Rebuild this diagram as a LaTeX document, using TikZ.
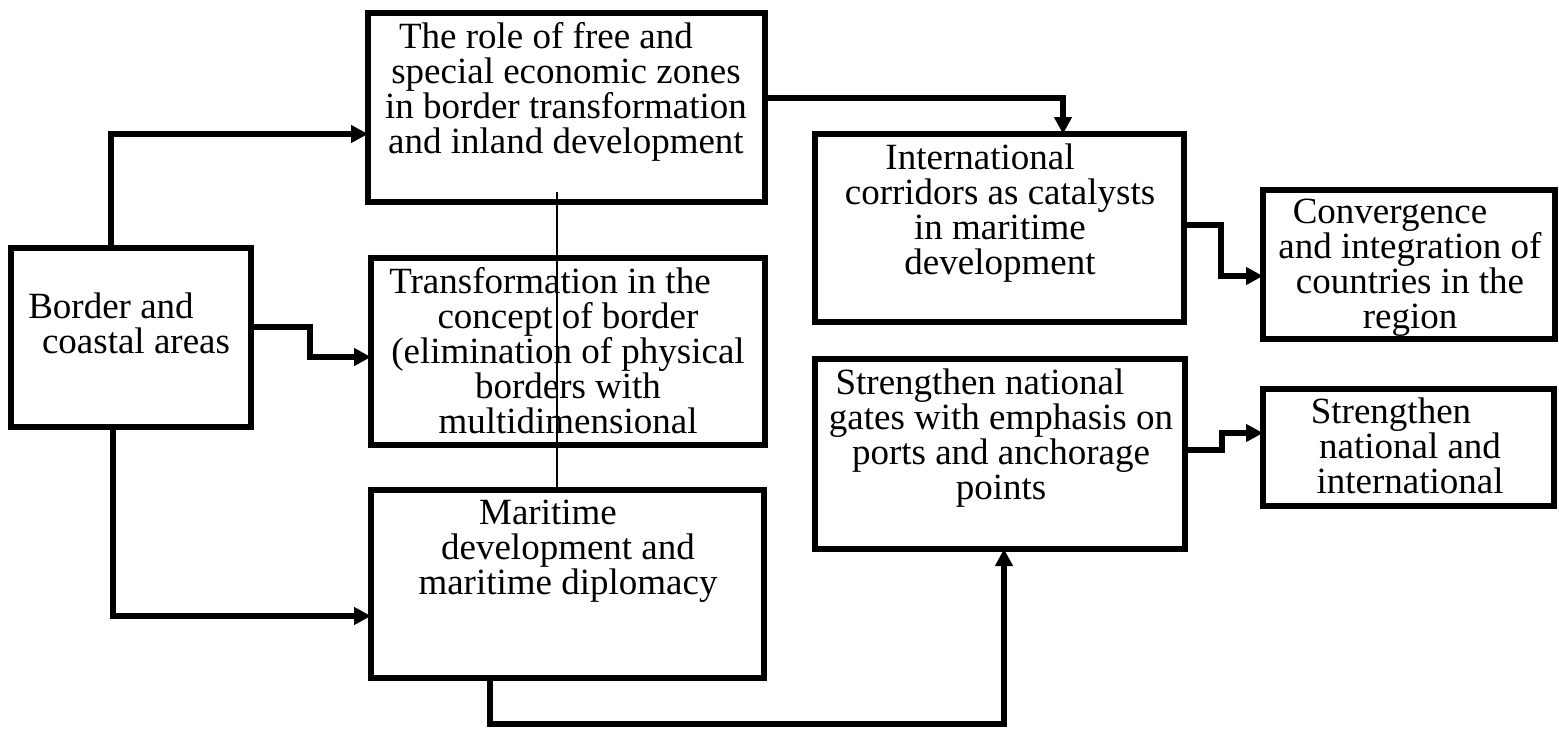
\documentclass[tikz,border=0pt]{standalone}
\usepackage{fontspec}
\setmainfont{Liberation Serif}
\usetikzlibrary{arrows.meta}
\tikzset{
  box/.style={draw, line width=6pt, inner sep=0pt, outer sep=0pt},
  txt/.style={anchor=north, align=center, inner sep=0pt, font=\fontsize{37}{35}\selectfont},
  arr/.style={line width=5.5pt, -{Triangle[length=17pt,width=17pt]}},
  thinline/.style={line width=2.5pt}
}
\begin{document}
\begin{tikzpicture}[x=1pt,y=-1pt]
\useasboundingbox (0,0) rectangle (1559,736);
% boxes
\node[box, minimum width=240pt, minimum height=179pt] (B) at (131,337.5) {};
\node[box, minimum width=397pt, minimum height=189pt] (R) at (566.5,107.5) {};
\node[box, minimum width=394pt, minimum height=187pt] (T) at (568,351.5) {};
\node[box, minimum width=393pt, minimum height=188pt] (M) at (567.5,584) {};
\node[box, minimum width=369pt, minimum height=188pt] (I) at (999.5,228) {};
\node[box, minimum width=370pt, minimum height=190pt] (S) at (1000,454) {};
\node[box, minimum width=292pt, minimum height=149pt] (C) at (1409,264.5) {};
\node[box, minimum width=291pt, minimum height=117pt] (SN) at (1408.5,447.5) {};
% texts
\node[txt] (Bt) at (136,292.5) {Border and\kern50pt\\coastal areas};
\node[txt] (Rt) at (566,22.5) {The role of free and\kern40pt\\special economic zones\\in border transformation\\and inland development};
\node[txt] (Tt) at (568,267.5) {Transformation in the\kern36pt\\concept of border\\(elimination of physical\\borders with\\multidimensional};
\node[txt] (Mt) at (568,499.5) {Maritime\kern40pt\\development and\\maritime diplomacy};
\node[txt] (It) at (1000,143.5) {International\kern40pt\\corridors as catalysts\\in maritime\\development};
\node[txt] (St) at (1001,368.5) {Strengthen national\kern42pt\\gates with emphasis on\\ports and anchorage\\points};
\node[txt] (Ct) at (1410,198.5) {Convergence\kern40pt\\and integration of\\countries in the\\region};
\node[txt] (SNt) at (1410,397.5) {Strengthen\kern38pt\\national and\\international};
% connectors
\draw[arr] ([xshift=-20pt]B.north) |- ([yshift=-26.5pt]R.west);
\draw[arr] ([yshift=10.5pt]B.east) -- ++(59,0) |- ([yshift=-5.5pt]T.west);
\draw[arr] ([xshift=-18pt]B.south) |- ([yshift=-32pt]M.west);
\draw[arr] ([yshift=9.5pt]R.east) -| ([xshift=63.5pt]I.north);
\draw[arr] ([yshift=3pt]I.east) -- ++(37,0) |- ([yshift=-11.5pt]C.west);
\draw[arr] ([yshift=4pt]S.east) -- ++(37,0) |- ([yshift=14.5pt]SN.west);
\draw[arr] ([xshift=-77.5pt]M.south) -- ++(0,46) -| ([xshift=4pt]S.south);
\draw[thinline] ([xshift=-9.5pt,yshift=10pt]R.south) -- ([xshift=-10.5pt]M.north);
\end{tikzpicture}
\end{document}
